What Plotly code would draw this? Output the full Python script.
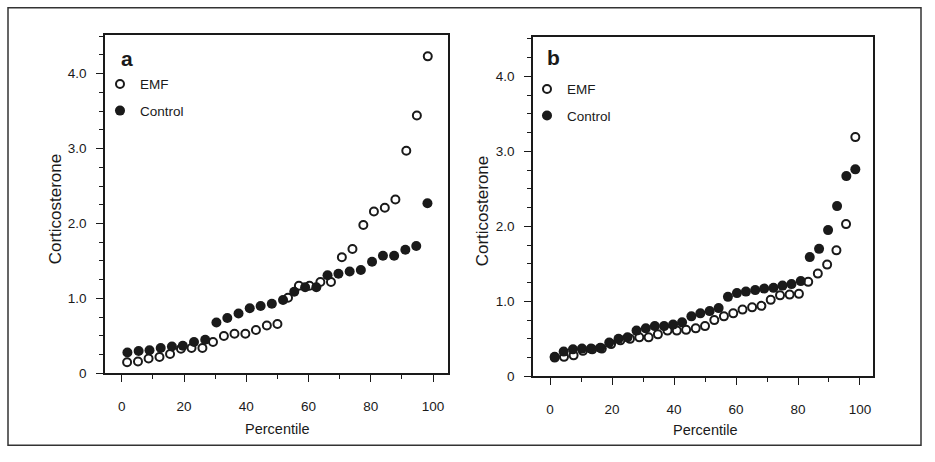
import plotly.graph_objects as go

# ---------------- data ----------------
# Panel a
a_emf_x = [1.7, 5.2, 8.6, 12.1, 15.5, 19.0, 22.4, 25.9, 29.3, 32.8, 36.2, 39.7, 43.1, 46.6, 50.0,
           53.4, 56.9, 60.3, 63.8, 67.2, 70.7, 74.1, 77.6, 81.0, 84.5, 87.9, 91.4, 94.8, 98.3]
a_emf_y = [0.15, 0.16, 0.20, 0.22, 0.26, 0.33, 0.34, 0.34, 0.42, 0.50, 0.53, 0.53, 0.58, 0.64, 0.66,
           1.01, 1.17, 1.17, 1.22, 1.22, 1.55, 1.66, 1.98, 2.16, 2.21, 2.32, 2.97, 3.44, 4.23]
a_ctl_x = [1.8, 5.4, 8.9, 12.5, 16.1, 19.6, 23.2, 26.8, 30.4, 33.9, 37.5, 41.1, 44.6, 48.2,
           51.8, 55.4, 58.9, 62.5, 66.1, 69.6, 73.2, 76.8, 80.4, 83.9, 87.5, 91.1, 94.6, 98.2]
a_ctl_y = [0.28, 0.30, 0.31, 0.34, 0.36, 0.37, 0.42, 0.45, 0.68, 0.74, 0.80, 0.87, 0.90, 0.93,
           0.98, 1.09, 1.15, 1.15, 1.31, 1.33, 1.36, 1.38, 1.49, 1.57, 1.57, 1.65, 1.70, 2.27]

# Panel b
b_emf_x = [1.5, 4.5, 7.6, 10.6, 13.6, 16.7, 19.7, 22.7, 25.8, 28.8, 31.8, 34.8, 37.9, 40.9, 43.9,
           47.0, 50.0, 53.0, 56.1, 59.1, 62.1, 65.2, 68.2, 71.2, 74.2, 77.3, 80.3, 83.3, 86.4,
           89.4, 92.4, 95.5, 98.5]
b_emf_y = [0.25, 0.26, 0.28, 0.34, 0.36, 0.37, 0.43, 0.48, 0.50, 0.52, 0.52, 0.56, 0.61, 0.61, 0.62,
           0.64, 0.67, 0.75, 0.80, 0.84, 0.89, 0.92, 0.94, 1.02, 1.08, 1.09, 1.10, 1.26, 1.37,
           1.49, 1.68, 2.03, 3.19]
b_ctl_x = [1.5, 4.4, 7.4, 10.3, 13.2, 16.2, 19.1, 22.1, 25.0, 27.9, 30.9, 33.8, 36.8, 39.7, 42.6,
           45.6, 48.5, 51.5, 54.4, 57.4, 60.3, 63.2, 66.2, 69.1, 72.1, 75.0, 77.9, 80.9, 83.8,
           86.8, 89.7, 92.6, 95.6, 98.5]
b_ctl_y = [0.26, 0.33, 0.36, 0.37, 0.37, 0.38, 0.45, 0.50, 0.52, 0.61, 0.64, 0.67, 0.67, 0.69, 0.72,
           0.80, 0.84, 0.87, 0.91, 1.06, 1.11, 1.13, 1.15, 1.17, 1.18, 1.21, 1.23, 1.27, 1.59,
           1.70, 1.95, 2.27, 2.67, 2.76]

x_ticks = [0, 20, 40, 60, 80, 100]
x_tick_text = ["0", "20", "40", "60", "80", "100"]
y_ticks = [0, 1, 2, 3, 4]
y_tick_text = ["0", "1.0", "2.0", "3.0", "4.0"]
series_names = ["EMF", "Control"]
panel_labels = ["a", "b"]
x_title = "Percentile"
y_title = "Corticosterone"

# ---------------- figure ----------------
W, H = 935, 462
FONT = "Liberation Sans, Arial, Helvetica, sans-serif"
INK = "#1a1a1a"

def px(x):
    return x / W

def py(y):
    return 1 - y / H

fig = go.Figure()

emf_marker = dict(symbol="circle", size=8, color="white", line=dict(color=INK, width=2))
ctl_marker = dict(symbol="circle", size=10, color=INK, line=dict(width=0))

fig.add_trace(go.Scatter(x=a_emf_x, y=a_emf_y, mode="markers", marker=emf_marker,
                         name=series_names[0], xaxis="x", yaxis="y", legend="legend",
                         legendgroup="ae"))
fig.add_trace(go.Scatter(x=a_ctl_x, y=a_ctl_y, mode="markers", marker=ctl_marker,
                         name=series_names[1], xaxis="x", yaxis="y", legend="legend",
                         legendgroup="ac"))
fig.add_trace(go.Scatter(x=b_emf_x, y=b_emf_y, mode="markers", marker=emf_marker,
                         name=series_names[0], xaxis="x2", yaxis="y2", legend="legend2",
                         legendgroup="be"))
fig.add_trace(go.Scatter(x=b_ctl_x, y=b_ctl_y, mode="markers", marker=ctl_marker,
                         name=series_names[1], xaxis="x2", yaxis="y2", legend="legend2",
                         legendgroup="bc"))

def xaxis(domain, rng, anchor):
    return dict(domain=domain, range=rng, anchor=anchor, showgrid=False, zeroline=False,
                showline=True, linecolor=INK, linewidth=1.5, mirror=True,
                ticks="outside", ticklen=7, tickwidth=1.3, tickcolor=INK,
                tickvals=x_ticks, ticktext=x_tick_text, ticklabelstandoff=13,
                tickfont=dict(family=FONT, size=13.5, color=INK),
                minor=dict(dtick=10, tick0=0, ticks="outside", ticklen=4, tickwidth=1.2,
                           tickcolor=INK, showgrid=False))

def yaxis(domain, rng, anchor):
    return dict(domain=domain, range=rng, anchor=anchor, showgrid=False, zeroline=False,
                showline=True, linecolor=INK, linewidth=1.5, mirror=True,
                ticks="outside", ticklen=7, tickwidth=1.3, tickcolor=INK,
                tickvals=y_ticks, ticktext=y_tick_text, ticklabelstandoff=7,
                tickfont=dict(family=FONT, size=13.5, color=INK),
                minor=dict(dtick=0.25, tick0=0, ticks="outside", ticklen=4, tickwidth=1.2,
                           tickcolor=INK, showgrid=False))

fig.update_layout(
    width=W, height=H,
    margin=dict(l=0, r=0, t=0, b=0),
    paper_bgcolor="white", plot_bgcolor="white",
    font=dict(family=FONT, size=13, color=INK),
    xaxis=xaxis([px(105), px(448)], [-5.4, 104.8], "y"),
    yaxis=yaxis([py(380), py(36)], [0, 4.51], "x"),
    xaxis2=xaxis([px(533), px(873)], [-5.5, 104.2], "y2"),
    yaxis2=yaxis([py(383), py(38)], [0, 4.52], "x2"),
    legend=dict(x=px(100), y=py(70), xanchor="left", yanchor="top",
                bgcolor="rgba(0,0,0,0)", tracegroupgap=6,
                font=dict(family=FONT, size=13.5, color=INK)),
    legend2=dict(x=px(527), y=py(75), xanchor="left", yanchor="top",
                 bgcolor="rgba(0,0,0,0)", tracegroupgap=6,
                 font=dict(family=FONT, size=13.5, color=INK)),
    showlegend=True,
)

annots = [
    dict(text="<b>%s</b>" % panel_labels[0], x=px(119), y=py(60), xanchor="left", yanchor="middle",
         font=dict(family=FONT, size=21, color=INK)),
    dict(text="<b>%s</b>" % panel_labels[1], x=px(545), y=py(59), xanchor="left", yanchor="middle",
         font=dict(family=FONT, size=21, color=INK)),
    dict(text=x_title, x=px(277), y=py(437), xanchor="center", yanchor="middle",
         font=dict(family=FONT, size=14.5, color=INK)),
    dict(text=x_title, x=px(705), y=py(438), xanchor="center", yanchor="middle",
         font=dict(family=FONT, size=14.5, color=INK)),
    dict(text=y_title, x=px(55), y=py(213), xanchor="center", yanchor="middle", textangle=-90,
         font=dict(family=FONT, size=17, color=INK)),
    dict(text=y_title, x=px(482), y=py(215), xanchor="center", yanchor="middle", textangle=-90,
         font=dict(family=FONT, size=17, color=INK)),
]
for a in annots:
    a.update(xref="paper", yref="paper", showarrow=False)
fig.update_layout(annotations=annots)

fig.add_shape(type="rect", xref="paper", yref="paper",
              x0=px(8), x1=px(921), y0=py(453), y1=py(8),
              line=dict(color="#333333", width=1.5))

fig.write_html("out.html", config={"displayModeBar": False},
               post_script="document.body.style.margin='0';")
